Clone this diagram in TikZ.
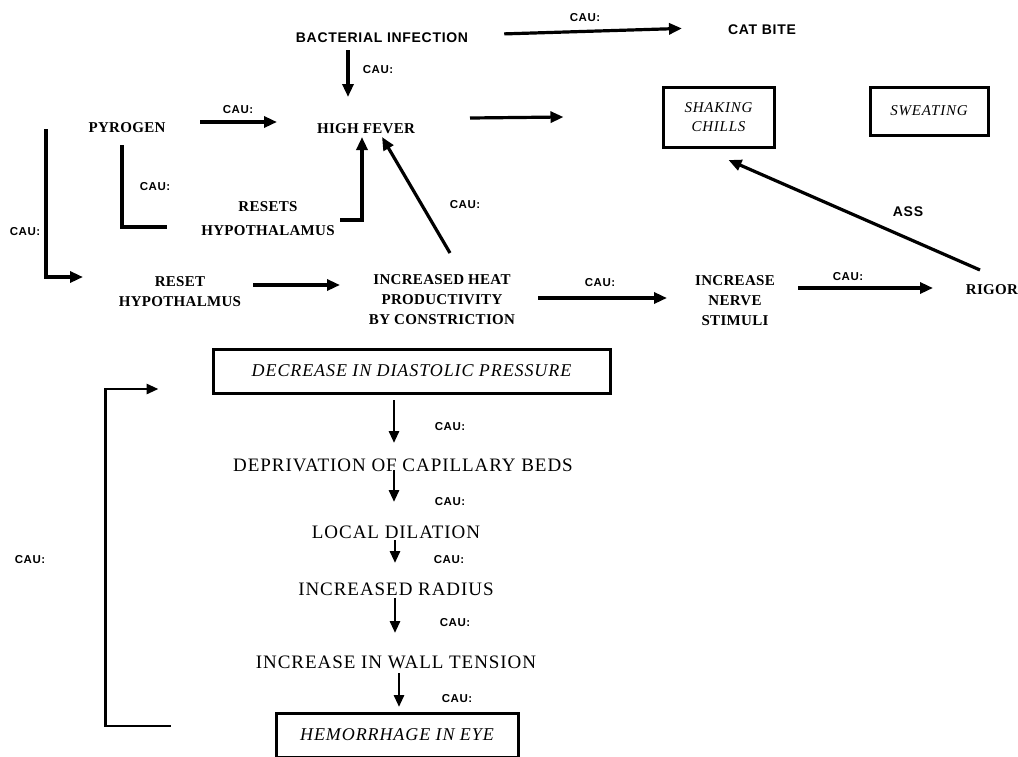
\documentclass[tikz,border=0pt]{standalone}
\usepackage{fontspec}
\setmainfont{Liberation Serif}[LetterSpace=5]
\newfontfamily\midfont{Liberation Serif}[LetterSpace=2]
\newfontfamily\labfont{Liberation Sans}[LetterSpace=5]
\usetikzlibrary{arrows.meta}
\begin{document}
\begin{tikzpicture}[x=1pt,y=-1pt,
  arr/.style={line width=3.2pt,-{Triangle[length=13pt,width=11pt]}},
  arrs/.style={line width=2.8pt,-{Triangle[length=12pt,width=10pt]}},
  ln/.style={line width=3.2pt},
  cau/.style={font=\labfont\bfseries\fontsize{11.5}{13}\selectfont, inner sep=0pt},
  hd/.style={font=\labfont\bfseries\fontsize{14}{16}\selectfont, inner sep=0pt},
  tx/.style={font=\midfont\bfseries\fontsize{15}{20}\selectfont, align=center, inner sep=0pt},
  ch/.style={font=\fontsize{19}{22}\selectfont, inner sep=0pt},
  bx/.style={draw, line width=3pt, inner sep=0pt, align=center},
  bxs/.style={bx, font=\itshape\fontsize{15}{19}\selectfont},
  bxl/.style={bx, font=\itshape\fontsize{18}{21}\selectfont}]
\useasboundingbox (0,0) rectangle (1018,756);

% nodes
\node[hd] (bact) at (382,38) {BACTERIAL INFECTION};
\node[hd] (cat) at (762,30) {CAT BITE};
\node[tx] (pyr) at (127,128) {PYROGEN};
\node[tx] (fever) at (366,129) {HIGH FEVER};
\node[bxs, minimum width=111, minimum height=60] (shak) at (718.5,117) {SHAKING\\CHILLS};
\node[bxs, minimum width=118, minimum height=48] (swe) at (929,111) {SWEATING};
\node[tx] (resets) at (268,219) {RESETS\\[4pt]HYPOTHALAMUS};
\node[tx] (reset) at (180,292) {RESET\\HYPOTHALMUS};
\node[tx] (heat) at (442,300) {INCREASED HEAT\\PRODUCTIVITY\\BY CONSTRICTION};
\node[tx] (nerve) at (735,301) {INCREASE\\NERVE\\STIMULI};
\node[tx] (rigor) at (992,290) {RIGOR};
\node[bxl, minimum width=397, minimum height=44] (dec) at (411.5,371) {DECREASE IN DIASTOLIC PRESSURE};
\node[ch] (dep) at (403,465) {DEPRIVATION OF CAPILLARY BEDS};
\node[ch] (loc) at (396,532) {LOCAL DILATION};
\node[ch] (rad) at (396,589) {INCREASED RADIUS};
\node[ch] (wall) at (396,662) {INCREASE IN WALL TENSION};
\node[bxl, minimum width=242, minimum height=44] (hem) at (397,735) {HEMORRHAGE IN EYE};

% upper connectors
\draw[arr, shorten <=36pt, shorten >=46pt] ([yshift=3pt]bact.east) -- ([yshift=3pt]cat.west);
\node[cau] (c1) at (585,18) {CAU:};
\draw[arr] ([xshift=-34pt,yshift=-12pt]bact.center) -- ([xshift=-18pt,yshift=32pt]fever.center);
\node[cau] (c2) at (378,70) {CAU:};
\draw[arr] ([xshift=73pt,yshift=6pt]pyr.center) -- ([xshift=-89pt,yshift=7pt]fever.center);
\node[cau] (c3) at (238,110) {CAU:};
\draw[arr] ([xshift=104pt,yshift=11pt]fever.center) -- ([xshift=-155pt]shak.center);
\draw[arr] ([xshift=-12pt,yshift=20pt]rigor.center) -- ([xshift=10pt,yshift=-43pt]shak.center);
\node[hd] (ass) at (908,212) {ASS};
\draw[ln] ([xshift=-5pt,yshift=-17pt]pyr.center) |- ([xshift=-101pt,yshift=-8pt]resets.center);
\node[cau] (c4) at (155,187) {CAU:};
\draw[arr] ([xshift=72pt,yshift=-1pt]resets.center) -| ([xshift=-4pt,yshift=-8pt]fever.center);
\draw[arr] ([xshift=8pt,yshift=47pt]heat.center) -- ([xshift=16pt,yshift=-8pt]fever.center);
\node[cau] (c5) at (465,205) {CAU:};
\draw[arr] ([xshift=-81pt,yshift=-1pt]pyr.center) |- ([xshift=-97pt,yshift=15pt]reset.center);
\node[cau] (c6) at (25,232) {CAU:};
\draw[arr] ([xshift=73pt,yshift=7pt]reset.center) -- ([xshift=-102pt,yshift=15pt]heat.center);
\draw[arr] ([xshift=96pt,yshift=2pt]heat.center) -- ([xshift=-68pt,yshift=3pt]nerve.center);
\node[cau] (c7) at (600,283) {CAU:};
\draw[arr] ([xshift=63pt,yshift=13pt]nerve.center) -- ([xshift=-59pt,yshift=2pt]rigor.center);
\node[cau] (c8) at (848,277) {CAU:};

% lower chain
\draw[arrs] ([xshift=-17.5pt,yshift=-29pt]dec.center) -- ([xshift=-9pt,yshift=22pt]dep.center);
\node[cau] (c9) at (450,427) {CAU:};
\draw[arrs] ([xshift=-9pt,yshift=-5pt]dep.center) -- ([xshift=-2pt,yshift=30pt]loc.center);
\node[cau] (c10) at (450,502) {CAU:};
\draw[arrs] ([xshift=-1pt,yshift=-8pt]loc.center) -- ([xshift=-1pt,yshift=26pt]rad.center);
\node[cau] (c11) at (449,560) {CAU:};
\draw[arrs] ([xshift=-1pt,yshift=-9pt]rad.center) -- ([xshift=-1pt,yshift=29pt]wall.center);
\node[cau] (c12) at (455,623) {CAU:};
\draw[arrs] ([xshift=3pt,yshift=-11pt]wall.center) -- ([xshift=2pt,yshift=28pt]hem.center);
\node[cau] (c13) at (457,699) {CAU:};
\draw[arrs] ([xshift=-104pt,yshift=9pt]hem.west) -- ++(-65,0) |- ([xshift=-53pt,yshift=-18pt]dec.west);
\node[cau] (c14) at (30,560) {CAU:};
\end{tikzpicture}
\end{document}
